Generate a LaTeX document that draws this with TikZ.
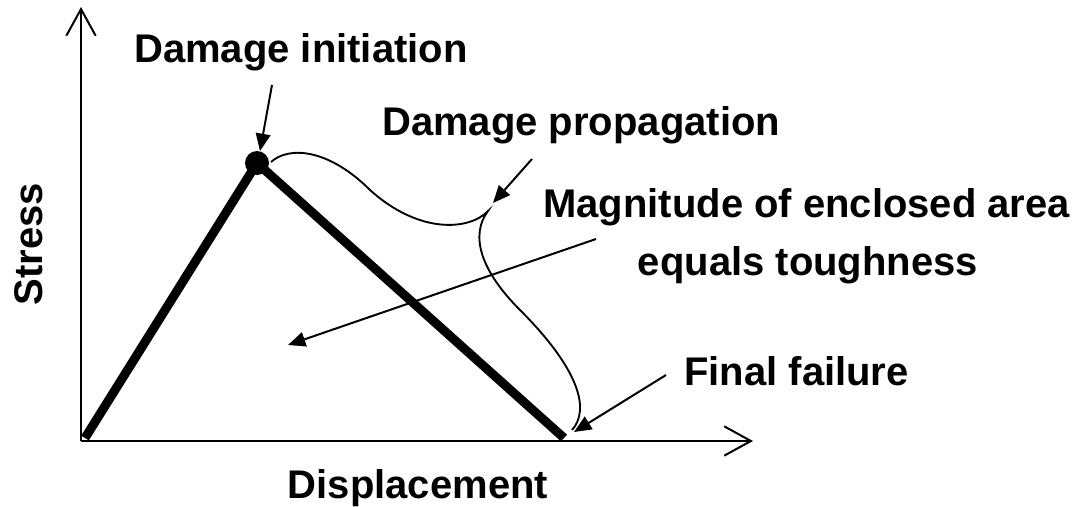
\documentclass[tikz,border=0pt]{standalone}
\usepackage{fontspec}
\setmainfont{Liberation Sans}
\usetikzlibrary{arrows.meta}
\begin{document}
\begin{tikzpicture}[x=0.75pt,y=-0.75pt,
  lbl/.style={font=\fontsize{30}{36}\selectfont\bfseries, inner sep=0pt},
  axis/.style={line width=1.5pt, -{Straight Barb[length=20pt,width=22pt,line width=1.5pt]}},
  thick curve/.style={line width=6.75pt, line cap=butt, line join=miter},
  thin/.style={line width=1.4pt},
  pointer/.style={line width=1.5pt, -{Triangle[length=13pt,width=11pt]}}]
\useasboundingbox (0,0) rectangle (1089,507);
% axes
\coordinate (O) at (81,441);
\coordinate (ytop) at (81,7);
\coordinate (xend) at (753,441);
\draw[axis] (O) -- (ytop);
\draw[axis] (O) -- (xend);
% curve
\coordinate (A) at (85,438);
\node[circle, fill=black, minimum size=18pt, inner sep=0pt] (peak) at (257,163) {};
\coordinate (B) at (564,438);
\draw[thick curve] (A) -- (peak.center) -- (B);
% brace-like curve
\coordinate (c0) at (271,162);
\coordinate (cusp) at (488,211);
\coordinate (cend) at (572,430);
\draw[thin] (c0) .. controls (290,145) and (330,150) .. (370,190)
  .. controls (420,235) and (470,230) .. (cusp)
  .. controls (470,235) and (480,270) .. (520,310)
  .. controls (580,370) and (590,410) .. (cend);
% labels
\node[lbl, anchor=base west] (init) at (134,62) {Damage initiation};
\node[lbl, anchor=base west] (prop) at (382,135) {Damage propagation};
\node[lbl, anchor=base west] (mag) at (543,217) {Magnitude of enclosed area};
\node[lbl, anchor=base] (eq) at (808,275) {equals toughness};
\node[lbl, anchor=base west] (fail) at (684,385) {Final failure};
\node[lbl, anchor=base] (disp) at (418,498) {Displacement};
\node[lbl, rotate=90] (stress) at (29,244) {Stress};
% pointer arrows
\coordinate (p1s) at (272,85);
\coordinate (p1e) at (260,151);
\coordinate (p2s) at (532,159);
\coordinate (p2e) at (493,203);
\coordinate (p3s) at (596,239);
\coordinate (p3e) at (288,345);
\coordinate (p4s) at (666,375);
\coordinate (p4e) at (574,432);
\draw[pointer] (p1s) -- (p1e);
\draw[pointer] (p2s) -- (p2e);
\draw[pointer] (p3s) -- (p3e);
\draw[pointer] (p4s) -- (p4e);
\end{tikzpicture}
\end{document}
